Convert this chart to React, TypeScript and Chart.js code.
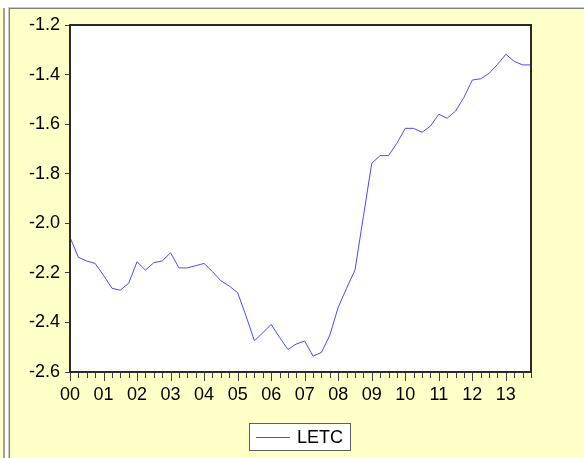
import React, { useEffect, useRef } from "react";
import { Chart, registerables } from "chart.js";

Chart.register(...registerables);

const yearLabels = ["00", "01", "02", "03", "04", "05", "06", "07", "08", "09", "10", "11", "12", "13"];
const seriesName = "LETC";
// quarterly values, 2000Q1 .. 2013Q4
const letc = [
  -2.057, -2.137, -2.152, -2.162, -2.21, -2.262, -2.27, -2.242,
  -2.155, -2.189, -2.159, -2.152, -2.119, -2.18, -2.18, -2.171,
  -2.162, -2.195, -2.232, -2.253, -2.28, -2.374, -2.474, -2.442,
  -2.408, -2.46, -2.509, -2.487, -2.475, -2.536, -2.521, -2.451,
  -2.339, -2.262, -2.189, -1.973, -1.758, -1.727, -1.727, -1.677,
  -1.617, -1.617, -1.633, -1.608, -1.56, -1.576, -1.547, -1.492,
  -1.422, -1.417, -1.395, -1.359, -1.318, -1.347, -1.361, -1.361,
];
const yMin = -2.6;
const yMax = -1.2;
const yStep = 0.2;

const W = 584;
const H = 458;
const BG = "#FFFFC8";
const LINE = "#4B4BFF";
const FONT = "'Liberation Sans', Arial, sans-serif";

export default function App() {
  const ref = useRef<HTMLCanvasElement | null>(null);

  useEffect(() => {
    if (!ref.current) return;
    const frame = {
      id: "frame",
      beforeDraw(chart: any) {
        const ctx = chart.ctx;
        const a = chart.chartArea;
        ctx.save();
        ctx.fillStyle = "#FFFFFF";
        ctx.fillRect(0, 0, W, H);
        ctx.fillStyle = BG;
        ctx.fillRect(10, 9, W - 10, H - 9);
        ctx.fillRect(0, 8, 3, H - 8);
        ctx.fillStyle = "#A0A0A0";
        ctx.fillRect(3, 8, 2, H - 8);
        ctx.fillStyle = "#C8C8C8";
        ctx.fillRect(8, 7, 1, H - 7);
        ctx.fillRect(8, 7, W - 8, 1);
        ctx.fillStyle = "#808080";
        ctx.fillRect(9, 8, 1, H - 8);
        ctx.fillRect(9, 8, W - 9, 1);
        ctx.fillStyle = "#FFFFFF";
        ctx.fillRect(a.left, a.top, a.right - a.left, a.bottom - a.top);
        ctx.restore();
      },
      afterDraw(chart: any) {
        const ctx = chart.ctx;
        const a = chart.chartArea;
        const xs = chart.scales.x;
        ctx.save();
        ctx.strokeStyle = "#404040";
        ctx.lineWidth = 1;
        ctx.beginPath();
        for (let i = 0; i < letc.length; i++) {
          const px = Math.round(xs.getPixelForValue(i)) + 0.5;
          const len = i % 4 === 0 ? 9 : 6;
          ctx.moveTo(px, a.bottom);
          ctx.lineTo(px, a.bottom + len);
        }
        ctx.stroke();
        ctx.strokeStyle = "#2A2A2A";
        ctx.lineWidth = 2;
        ctx.strokeRect(a.left, a.top, a.right - a.left, a.bottom - a.top);
        // legend
        const lx = 249.5, ly = 423.5, lw = 101, lh = 27;
        ctx.fillStyle = "#FFFFFF";
        ctx.fillRect(lx, ly, lw, lh);
        ctx.strokeStyle = "#606060";
        ctx.lineWidth = 1;
        ctx.strokeRect(lx, ly, lw, lh);
        ctx.strokeStyle = LINE;
        ctx.beginPath();
        ctx.moveTo(256, 437.5);
        ctx.lineTo(290, 437.5);
        ctx.stroke();
        ctx.fillStyle = "#000000";
        ctx.font = `18px ${FONT}`;
        ctx.textBaseline = "middle";
        ctx.textAlign = "left";
        ctx.fillText(seriesName, 297, 438);
        ctx.restore();
      },
    };

    const chart = new Chart(ref.current, {
      type: "line",
      data: {
        datasets: [
          {
            label: seriesName,
            data: letc.map((v, i) => ({ x: i, y: v })),
            borderColor: LINE,
            borderWidth: 1,
            pointRadius: 0,
            tension: 0,
            fill: false,
          },
        ],
      },
      options: {
        animation: false,
        responsive: false,
        devicePixelRatio: 1,
        layout: { padding: { top: 25, right: 53, left: 0, bottom: 0 } },
        plugins: { legend: { display: false }, tooltip: { enabled: false } },
        scales: {
          x: {
            type: "linear",
            min: 0,
            max: letc.length - 1,
            afterFit: (s: any) => {
              s.height = 86;
            },
            border: { display: false },
            grid: { display: false, drawTicks: false },
            ticks: {
              stepSize: 1,
              autoSkip: false,
              maxRotation: 0,
              padding: 12,
              color: "#000000",
              font: { family: FONT, size: 18 },
              callback: (v: any) => (Number(v) % 4 === 0 ? yearLabels[Number(v) / 4] : ""),
            },
          },
          y: {
            min: yMin,
            max: yMax,
            afterFit: (s: any) => {
              s.width = 70;
            },
            border: { display: false },
            grid: {
              drawOnChartArea: false,
              drawTicks: true,
              tickLength: 5,
              tickColor: "#404040",
            },
            ticks: {
              stepSize: yStep,
              padding: 5,
              color: "#000000",
              font: { family: FONT, size: 18 },
              callback: (v: any) => Number(v).toFixed(1),
            },
          },
        },
      },
      plugins: [frame],
    });
    return () => chart.destroy();
  }, []);

  return (
    <div style={{ position: "fixed", left: 0, top: 0, width: W, height: H, overflow: "hidden" }}>
      <canvas ref={ref} width={W} height={H} style={{ display: "block", width: W, height: H }} />
    </div>
  );
}
